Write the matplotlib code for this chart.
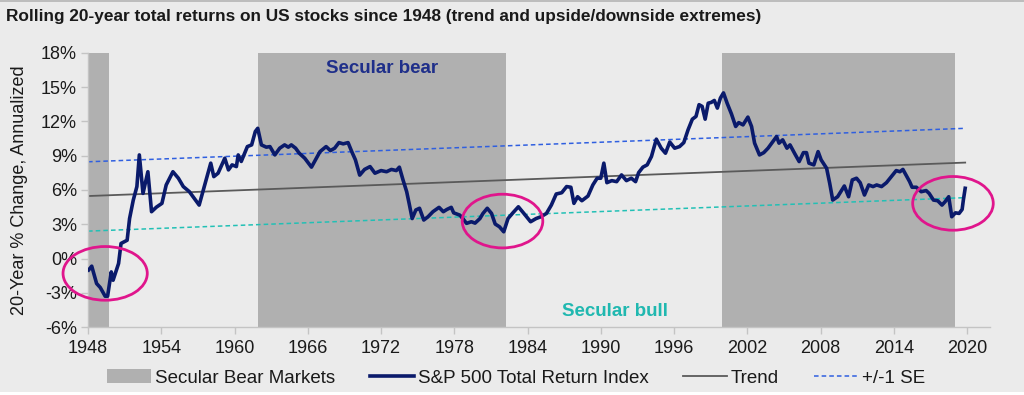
#!/usr/bin/env python3
"""Rolling 20-year total returns on US stocks since 1948, with trend and +/-1 SE bands."""

import matplotlib
matplotlib.use("Agg")
import matplotlib.pyplot as plt
from matplotlib.patches import Ellipse, Patch, Rectangle
from matplotlib.lines import Line2D

plt.rcParams["font.family"] = ["Liberation Sans", "DejaVu Sans"]

# S&P 500 total return index, rolling 20-year annualized % change
YEARS = [
    1948.05, 1948.3, 1948.7, 1949.0, 1949.4, 1949.6, 1949.9, 1950.05, 1950.5, 1950.7,
    1950.95, 1951.2, 1951.4, 1951.7, 1952.0, 1952.2, 1952.5, 1952.9, 1953.2, 1953.6,
    1954.05, 1954.4, 1954.95, 1955.4, 1955.8, 1956.3, 1956.7, 1957.1, 1957.4, 1958.05,
    1958.3, 1958.65, 1959.2, 1959.5, 1959.8, 1960.15, 1960.3, 1960.55, 1961.05, 1961.4,
    1961.7, 1961.9, 1962.2, 1962.6, 1962.9, 1963.3, 1963.7, 1964.1, 1964.4, 1964.65,
    1965.0, 1965.3, 1965.75, 1966.3, 1966.7, 1967.0, 1967.5, 1967.85, 1968.2, 1968.55,
    1968.9, 1969.3, 1969.6, 1969.9, 1970.25, 1970.65, 1971.1, 1971.5, 1972.0, 1972.45,
    1972.85, 1973.25, 1973.5, 1973.8, 1974.1, 1974.3, 1974.55, 1974.85, 1975.15, 1975.5,
    1975.85, 1976.25, 1976.75, 1977.1, 1977.4, 1977.75, 1977.95, 1978.45, 1978.7, 1979.0,
    1979.4, 1979.7, 1980.1, 1980.35, 1980.7, 1981.05, 1981.35, 1981.7, 1982.05, 1982.4,
    1982.8, 1983.25, 1983.7, 1984.25, 1984.7, 1985.1, 1985.55, 1985.95, 1986.35, 1986.8,
    1987.2, 1987.55, 1987.8, 1988.1, 1988.45, 1988.95, 1989.35, 1989.7, 1990.0, 1990.25,
    1990.5, 1990.9, 1991.3, 1991.7, 1992.1, 1992.5, 1992.85, 1993.1, 1993.45, 1993.8,
    1994.15, 1994.55, 1994.95, 1995.3, 1995.65, 1996.05, 1996.45, 1996.8, 1997.15, 1997.5,
    1997.8, 1998.05, 1998.3, 1998.55, 1998.8, 1999.05, 1999.3, 1999.55, 1999.8, 2000.05,
    2000.35, 2000.7, 2001.05, 2001.3, 2001.65, 2002.05, 2002.35, 2002.6, 2003.0, 2003.35,
    2003.7, 2004.1, 2004.4, 2004.6, 2004.9, 2005.25, 2005.5, 2005.9, 2006.25, 2006.6,
    2006.85, 2007.05, 2007.45, 2007.8, 2008.05, 2008.5, 2008.75, 2009.0, 2009.4, 2009.95,
    2010.3, 2010.6, 2010.95, 2011.25, 2011.6, 2011.95, 2012.3, 2012.6, 2013.0, 2013.4,
    2013.8, 2014.2, 2014.5, 2014.75, 2015.0, 2015.3, 2015.5, 2015.85, 2016.25, 2016.65,
    2016.9, 2017.25, 2017.6, 2017.95, 2018.2, 2018.5, 2018.75, 2019.05, 2019.35, 2019.6,
    2019.7, 2019.85,
]
RETURNS = [
    -1.0, -0.67, -2.19, -2.54, -3.3, -3.3, -1.17, -1.9, -0.43, 1.32,
    1.46, 1.6, 3.5, 5.1, 6.3, 9.07, 5.7, 7.6, 4.1, 4.5,
    4.83, 6.44, 7.6, 7.03, 6.3, 5.85, 5.27, 4.68, 5.85, 8.35,
    7.17, 7.47, 8.78, 7.76, 8.2, 8.05, 9.07, 8.5, 9.8, 9.95,
    11.12, 11.4, 9.95, 9.75, 9.8, 9.07, 9.66, 9.95, 9.75, 9.95,
    9.66, 9.22, 8.78, 8.0, 8.78, 9.36, 9.8, 9.45, 9.66, 10.15,
    10.04, 10.15, 9.36, 8.64, 7.3, 7.8, 8.05, 7.47, 7.7, 7.6,
    7.8, 7.7, 8.0, 6.88, 5.85, 4.83, 3.5, 4.25, 4.4, 3.37,
    3.66, 4.1, 4.48, 4.1, 4.3, 4.48, 4.0, 3.8, 3.5, 3.08,
    3.22, 3.1, 3.5, 3.95, 4.4, 3.95, 3.02, 2.78, 2.34, 3.5,
    4.0, 4.53, 3.95, 3.22, 3.5, 3.66, 3.95, 4.68, 5.65, 5.76,
    6.3, 6.24, 4.83, 5.41, 5.06, 5.47, 6.44, 7.03, 7.03, 8.35,
    6.64, 6.82, 6.73, 7.32, 6.82, 7.03, 6.73, 7.52, 8.0, 8.2,
    8.93, 10.45, 9.66, 9.22, 10.2, 9.66, 9.8, 10.15, 11.27, 12.2,
    12.44, 13.47, 13.32, 12.2, 13.6, 13.67, 13.84, 13.17, 14.05, 14.5,
    13.6, 12.67, 11.56, 11.9, 11.7, 12.38, 11.56, 10.1, 9.07, 9.27,
    9.66, 10.24, 10.68, 10.1, 10.39, 9.66, 9.95, 9.16, 8.49, 9.27,
    9.27, 8.35, 8.2, 9.36, 8.64, 7.9, 6.6, 5.12, 5.41, 6.35,
    5.41, 6.88, 7.03, 6.64, 5.56, 6.44, 6.3, 6.44, 6.3, 6.64,
    7.17, 7.7, 7.6, 7.8, 7.32, 6.73, 6.24, 6.24, 5.85, 5.95,
    5.7, 5.12, 5.06, 4.68, 4.97, 5.41, 3.66, 4.0, 3.95, 4.3,
    5.12, 6.15,
]

# trend line and +/-1 SE bands (endpoints)
TREND_YEARS = [1948, 2019.85]
TREND = [5.47, 8.40]
UPPER_SE = [8.47, 11.40]
LOWER_SE = [2.40, 5.33]

# secular bear market periods
BEAR_START = [1948.0, 1961.9, 1999.9]
BEAR_END = [1949.7, 1982.2, 2019.0]

# highlighted extremes: (center year, center %, width yrs, height %)
CIRCLES = [
    (1949.4, -1.3, 6.9, 4.7),
    (1981.95, 3.28, 6.6, 4.7),
    (2018.85, 4.83, 6.6, 4.7),
]

XTICKS = list(range(1948, 2021, 6))
YTICKS = list(range(-6, 19, 3))

BG = "#ebebeb"
SHADE = "#b0b0b0"
NAVY = "#0a1a6b"
TREND_COL = "#5a5a5a"
SE_UP = "#2f5fe0"
SE_LO = "#22c0b5"
MAGENTA = "#e0158c"
SPINE = "#c4c4c4"
TXT = "#1a1a1a"

fig = plt.figure(figsize=(10.24, 3.95), dpi=100, facecolor=BG)
# white strip at the very bottom and thin rule at the top, as in the source
fig.patches.append(Rectangle((0, 0), 1, 0.008, transform=fig.transFigure,
                             facecolor="white", edgecolor="none"))
fig.patches.append(Rectangle((0, 0.996), 1, 0.004, transform=fig.transFigure,
                             facecolor="#bdbdbd", edgecolor="none"))

ax = fig.add_axes([0.086, 0.172, 0.881, 0.694])
ax.set_facecolor(BG)

for s, e in zip(BEAR_START, BEAR_END):
    ax.axvspan(s, e, color=SHADE, lw=0, zorder=1)

ax.plot(TREND_YEARS, UPPER_SE, color=SE_UP, lw=1.1, ls=(0, (3, 2)), zorder=2)
ax.plot(TREND_YEARS, LOWER_SE, color=SE_LO, lw=1.1, ls=(0, (3, 2)), zorder=2)
ax.plot(TREND_YEARS, TREND, color=TREND_COL, lw=1.3, zorder=2)
ax.plot(YEARS, RETURNS, color=NAVY, lw=2.6, zorder=3, solid_joinstyle="round")

for cx, cy, w, h in CIRCLES:
    ax.add_patch(Ellipse((cx, cy), w, h, fill=False, ec=MAGENTA, lw=2.0,
                         zorder=4, clip_on=False))

ax.text(1972.1, 16.6, "Secular bear", color="#1f2f8a", fontsize=13.5,
        fontweight="bold", ha="center", va="center", zorder=5)
ax.text(1991.2, -4.6, "Secular bull", color="#20b8b0", fontsize=13.5,
        fontweight="bold", ha="center", va="center", zorder=5)

ax.set_xlim(1948, 2021.9)
ax.set_ylim(-6, 18)
ax.set_xticks(XTICKS)
ax.set_yticks(YTICKS)
ax.set_yticklabels([f"{v}%" for v in YTICKS])
ax.tick_params(axis="both", colors=SPINE, labelcolor=TXT, labelsize=13,
               length=5, width=1)
ax.tick_params(axis="x", pad=4)
ax.tick_params(axis="y", pad=3)
for side in ("top", "right"):
    ax.spines[side].set_visible(False)
for side in ("left", "bottom"):
    ax.spines[side].set_color(SPINE)
    ax.spines[side].set_linewidth(1)

ax.set_ylabel("20-Year % Change, Annualized", fontsize=13, color=TXT)
ax.yaxis.set_label_coords(-0.067, 0.5)

fig.text(0.006, 0.957, "Rolling 20-year total returns on US stocks since 1948 "
         "(trend and upside/downside extremes)", fontsize=12.4, fontweight="bold",
         color=TXT, ha="left", va="center")

handles = [
    Patch(facecolor=SHADE, edgecolor="none"),
    Line2D([], [], color=NAVY, lw=2.6),
    Line2D([], [], color=TREND_COL, lw=1.3),
    Line2D([], [], color=SE_UP, lw=1.1, ls=(0, (3, 2))),
]
labels = ["Secular Bear Markets", "S&P 500 Total Return Index", "Trend", "+/-1 SE"]
fig.legend(handles, labels, loc="center", bbox_to_anchor=(0.504, 0.043), ncol=4,
           frameon=False, fontsize=13.5, handlelength=2.35, handletextpad=0.2,
           columnspacing=1.85, handleheight=0.7, labelcolor=TXT)

fig.savefig("out.png", dpi=100, facecolor=BG)
